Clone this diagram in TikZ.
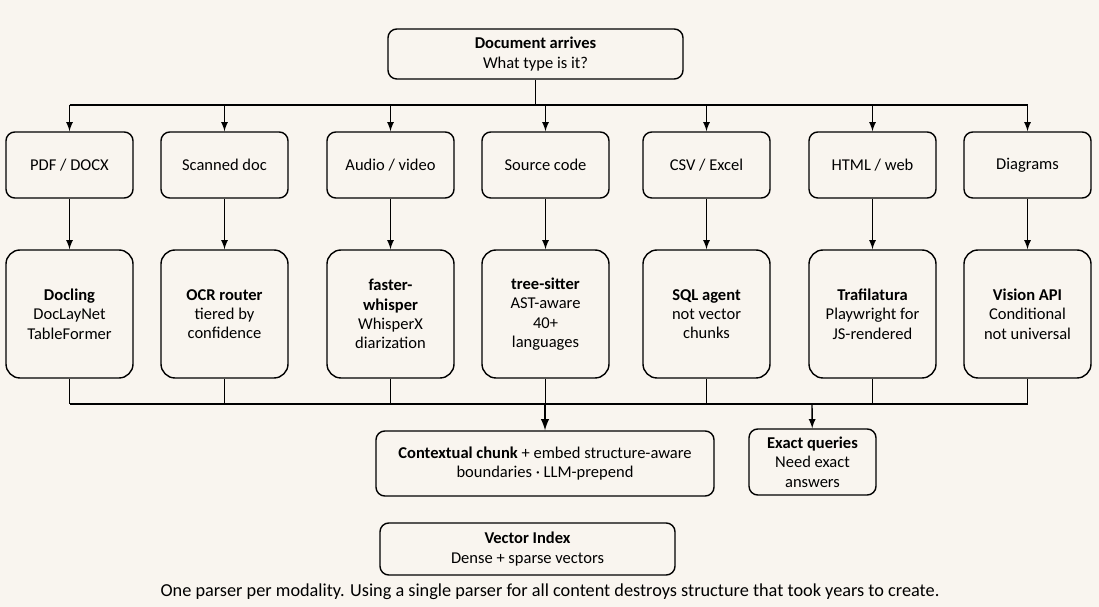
\documentclass[tikz,border=0pt]{standalone}
\usepackage{fontspec}
\setmainfont{Carlito}
\usetikzlibrary{positioning}
\definecolor{paper}{HTML}{F9F5EF}
\tikzset{
  box/.style={draw=black, thick, rounded corners=5pt, align=center, fill=paper,
    font=\fontsize{9.4}{11}\selectfont, inner sep=0pt},
  kind/.style={box, minimum width=127*0.02cm, minimum height=66*0.02cm},
  tool/.style={box, minimum width=127*0.02cm, minimum height=128*0.02cm, rounded corners=8pt},
  flow/.style={-latex, thick},
  bus/.style={thick}
}
\begin{document}
\begin{tikzpicture}[x=0.02cm, y=-0.02cm]
    \fill[paper] (0,0) rectangle (1099,607);
    \useasboundingbox (0,0) rectangle (1099,607);

    \node[box, minimum width=295*0.02cm, minimum height=50*0.02cm] (arrive) at (535.5,54) {\textbf{Document arrives}\\What type is it?};

    % input kinds and their parsers
    \foreach \x/\name/\kindtext/\tooltext in {
        69.5/pdf/{PDF / DOCX}/{\textbf{Docling}\\DocLayNet\\TableFormer},
        224.5/scan/{Scanned doc}/{\textbf{OCR router}\\tiered by\\confidence},
        390.5/audio/{Audio / video}/{\textbf{faster-}\\\textbf{whisper}\\WhisperX\\diarization},
        545.5/code/{Source code}/{\textbf{tree-sitter}\\AST-aware\\40+\\languages},
        706.5/csv/{CSV / Excel}/{\textbf{SQL agent}\\not vector\\chunks},
        872.5/html/{HTML / web}/{\textbf{Trafilatura}\\Playwright for\\JS-rendered},
        1027.5/diag/{Diagrams}/{\textbf{Vision API}\\Conditional\\not universal}} {
        \node[kind] (k-\name) at (\x,165) {\kindtext};
        \node[tool] (t-\name) at (\x,314) {\tooltext};
        \draw[flow] (k-\name) -- (t-\name);
        \coordinate (in-\name) at (\x,105);
        \coordinate (out-\name) at (\x,404);
        \draw[flow] (in-\name) -- (k-\name);
        \draw[bus] (t-\name) -- (out-\name);
    }
    \draw[bus] (arrive) -- (535.5,105);
    \draw[bus] (in-pdf) -- (in-diag);
    \draw[bus] (out-pdf) -- (out-diag);

    \node[box, minimum width=338*0.02cm, minimum height=65*0.02cm] (chunk) at (545,463.5) {\textbf{Contextual chunk} + embed structure-aware\\boundaries · LLM-prepend};
    \node[box, minimum width=127*0.02cm, minimum height=66*0.02cm] (exact) at (812.5,462) {\textbf{Exact queries}\\Need exact\\answers};
    \node[box, minimum width=295*0.02cm, minimum height=52*0.02cm] (index) at (527.5,549) {\textbf{Vector Index}\\Dense + sparse vectors};

    \coordinate (merge) at (545,404);
    \coordinate (split) at (812,404);
    \draw[flow, very thick] (merge) -- (chunk);
    \draw[flow] (split) -- (exact);

    \node[font=\fontsize{10.4}{12}\selectfont] (note) at (550,592) {One parser per modality. Using a single parser for all content destroys structure that took years to create.};
\end{tikzpicture}
\end{document}
